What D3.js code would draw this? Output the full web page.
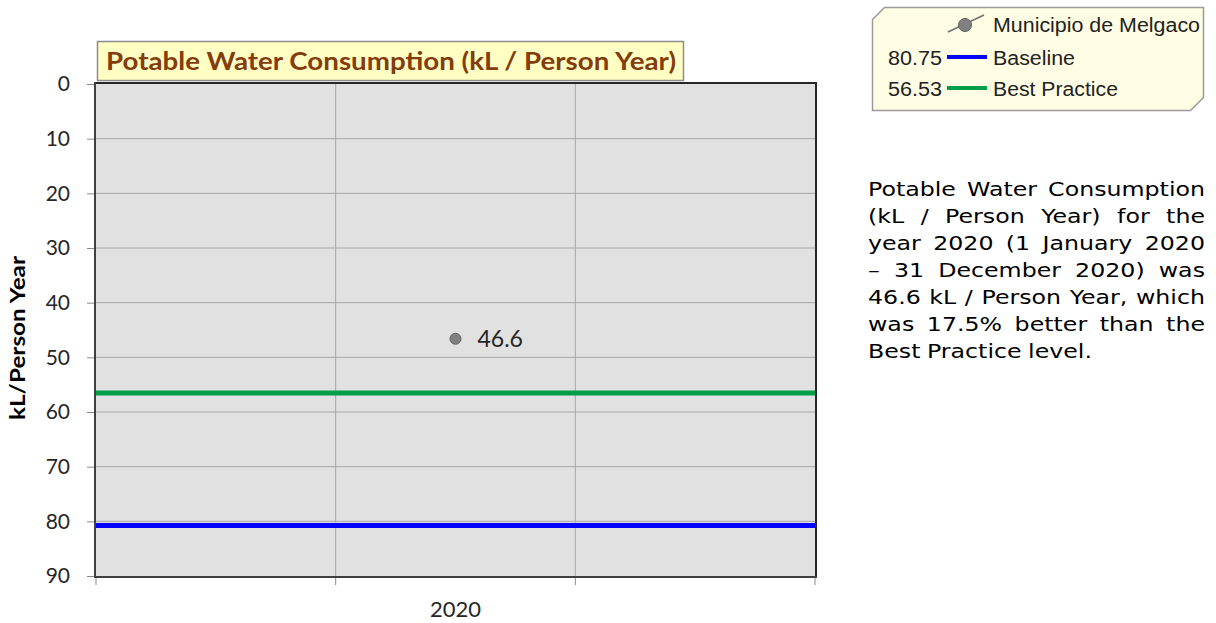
<!DOCTYPE html>
<html><head><meta charset="utf-8">
<script src="https://cdn.jsdelivr.net/npm/d3@7"></script>
<style>
html,body{margin:0;padding:0;background:#fff;}
svg{display:block;}
.note text{font-family:"DejaVu Sans", Verdana, sans-serif;}
</style></head>
<body>
<svg id="c" width="1216" height="623"></svg>
<script>
// ---- data ----
const periods = ["2019", "2020", "2021"];
const xTickLabels = ["", "2020", ""];
const seriesName = "Municipio de Melgaco";
const seriesPeriods = ["2020"];
const seriesValues = [46.6];
const baselineValue = 80.75;
const bestPracticeValue = 56.53;
const yTicks = [0, 10, 20, 30, 40, 50, 60, 70, 80, 90];
const titleText = "Potable Water Consumption (kL / Person Year)";
const yAxisTitle = "kL/Person Year";
const legendRows = [
  {value: "", label: "Municipio de Melgaco", type: "marker"},
  {value: "80.75", label: "Baseline", type: "baseline"},
  {value: "56.53", label: "Best Practice", type: "best"}
];
const noteLines = [
  "Potable Water Consumption",
  "(kL / Person Year) for the",
  "year 2020 (1 January 2020",
  "\u2013 31 December 2020) was",
  "46.6 kL / Person Year, which",
  "was 17.5% better than the",
  "Best Practice level."
];

// ---- layout ----
const svg = d3.select("#c");
const L = 96, R = 815, T = 84, B = 576;
const x = d3.scaleBand().domain(periods).range([L, R]).padding(0);
const y = d3.scaleLinear().domain([0, 90]).range([T, B]);
const colors = {baseline: "#0000ff", best: "#009e49", point: "#808080"};
const calib = "Lato, 'Open Sans', sans-serif";

// plot background
svg.append("rect").attr("x", L).attr("y", T).attr("width", R - L).attr("height", B - T).attr("fill", "#e1e1e1");

// horizontal gridlines
svg.append("g").selectAll("line").data(yTicks.slice(1, -1)).join("line")
  .attr("x1", L).attr("x2", R).attr("y1", d => y(d)).attr("y2", d => y(d))
  .attr("stroke", "#a6a6a6").attr("stroke-width", 1);
// vertical gridlines (band boundaries)
const bounds = periods.map(p => x(p)).concat([x(periods[periods.length - 1]) + x.bandwidth()]);
svg.append("g").selectAll("line").data(bounds.slice(1, -1)).join("line")
  .attr("x1", d => d).attr("x2", d => d).attr("y1", T).attr("y2", B)
  .attr("stroke", "#a6a6a6").attr("stroke-width", 1);

// reference lines
svg.append("line").attr("x1", L).attr("x2", R).attr("y1", y(bestPracticeValue)).attr("y2", y(bestPracticeValue))
  .attr("stroke", colors.best).attr("stroke-width", 5);
svg.append("line").attr("x1", L).attr("x2", R).attr("y1", y(baselineValue)).attr("y2", y(baselineValue))
  .attr("stroke", colors.baseline).attr("stroke-width", 5);

// plot frame: top and right dark
svg.append("line").attr("x1", L).attr("x2", R + 1).attr("y1", T - 1).attr("y2", T - 1).attr("stroke", "#262626").attr("stroke-width", 2);
svg.append("line").attr("x1", R + 1).attr("x2", R + 1).attr("y1", T - 2).attr("y2", B).attr("stroke", "#262626").attr("stroke-width", 2);

// y axis
const yAxis = svg.append("g").attr("transform", `translate(${L},0)`)
  .call(d3.axisLeft(y).tickValues(yTicks).tickSize(9).tickPadding(17));
yAxis.select(".domain").remove();
yAxis.selectAll(".tick line").attr("stroke", "#8c8c8c");
yAxis.selectAll(".tick text").attr("font-family", calib).attr("font-size", 21).attr("fill", "#262626");
svg.append("line").attr("x1", L - 1).attr("x2", L - 1).attr("y1", T - 2).attr("y2", B + 1).attr("stroke", "#404040").attr("stroke-width", 2);

// x axis
svg.append("g").selectAll("line").data(bounds).join("line")
  .attr("x1", d => d).attr("x2", d => d).attr("y1", B).attr("y2", B + 9)
  .attr("stroke", "#8c8c8c");
svg.append("line").attr("x1", L - 2).attr("x2", R + 2).attr("y1", B + 1).attr("y2", B + 1).attr("stroke", "#404040").attr("stroke-width", 2);
svg.append("g").selectAll("text").data(periods).join("text")
  .attr("x", d => x(d) + x.bandwidth() / 2).attr("y", 617)
  .attr("text-anchor", "middle").attr("font-family", calib).attr("font-size", 22).attr("fill", "#262626")
  .text((d, i) => xTickLabels[i]);

// y axis title
svg.append("text").attr("transform", "translate(25,338) rotate(-90)")
  .attr("text-anchor", "middle").attr("font-family", calib).attr("font-weight", "bold")
  .attr("font-size", 20).attr("fill", "#000")
  .attr("textLength", 164).attr("lengthAdjust", "spacingAndGlyphs").text(yAxisTitle);

// data points
const pts = seriesPeriods.map((p, i) => ({p, v: seriesValues[i]}));
svg.append("g").selectAll("circle").data(pts).join("circle")
  .attr("cx", d => x(d.p) + x.bandwidth() / 2).attr("cy", d => y(d.v)).attr("r", 5.5)
  .attr("fill", colors.point).attr("stroke", "#5f5f5f").attr("stroke-width", 1);
svg.append("g").selectAll("text").data(pts).join("text")
  .attr("x", d => x(d.p) + x.bandwidth() / 2 + 22).attr("y", d => y(d.v) + 8)
  .attr("font-family", calib).attr("font-size", 23).attr("fill", "#262626")
  .text(d => d.v.toFixed(1));

// title box
const tb = svg.append("g");
tb.append("rect").attr("x", 97.5).attr("y", 41.5).attr("width", 586).attr("height", 39)
  .attr("fill", "#ffffc4").attr("stroke", "#8c8c8c").attr("stroke-width", 1.5);
const tt = tb.append("text").attr("x", 391).attr("y", 70).attr("text-anchor", "middle")
  .attr("font-family", calib).attr("font-weight", "bold").attr("font-size", 25).attr("fill", "#843c0c")
  .text(titleText);
tt.attr("textLength", 570).attr("lengthAdjust", "spacingAndGlyphs");

// legend
const lg = svg.append("g");
lg.append("path").attr("d", "M884.5,7.5 L1203.5,7.5 L1203.5,97.5 L1190.5,110.5 L872.5,110.5 L872.5,19.5 Z")
  .attr("fill", "#fffde3").attr("stroke", "#9a9a9a").attr("stroke-width", 1.5);
const legY = [24, 57, 88];
const labelWidths = [207, 82, 125];
const lfont = "'Liberation Sans', Arial, sans-serif";
legendRows.forEach((r, i) => {
  const cy = legY[i];
  if (r.type === "marker") {
    lg.append("line").attr("x1", 948).attr("y1", cy + 8).attr("x2", 984).attr("y2", cy - 9).attr("stroke", "#707070").attr("stroke-width", 1.5);
    lg.append("circle").attr("cx", 965).attr("cy", cy + 1).attr("r", 6.5).attr("fill", colors.point).attr("stroke", "#606060");
  } else {
    lg.append("line").attr("x1", 947).attr("x2", 987).attr("y1", cy).attr("y2", cy)
      .attr("stroke", colors[r.type]).attr("stroke-width", 4);
    lg.append("text").attr("x", 942).attr("y", cy + 8).attr("text-anchor", "end")
      .attr("font-family", lfont).attr("font-size", 20).attr("fill", "#222")
      .attr("textLength", 54).attr("lengthAdjust", "spacingAndGlyphs").text(r.value);
  }
  lg.append("text").attr("x", 993).attr("y", cy + 8)
    .attr("font-family", lfont).attr("font-size", 20).attr("fill", "#222")
    .attr("textLength", labelWidths[i]).attr("lengthAdjust", "spacingAndGlyphs").text(r.label);
});

// note text, justified
const nx0 = 868, nx1 = 1205, ny0 = 196, nlh = 27;
const ng = svg.append("g").attr("class", "note").attr("font-size", 19).attr("fill", "#000");
const probe = ng.append("text").text(noteLines[noteLines.length - 1]);
const k = 226 / probe.node().getComputedTextLength();
probe.remove();
noteLines.forEach((line, i) => {
  const words = line.split(" ");
  const yy = ny0 + i * nlh;
  const nodes = words.map(w => ng.append("text").attr("y", yy).text(w));
  const widths = nodes.map(n => n.node().getComputedTextLength() * k);
  nodes.forEach((n, j) => n.attr("textLength", widths[j]).attr("lengthAdjust", "spacingAndGlyphs"));
  const total = d3.sum(widths);
  const last = i === noteLines.length - 1;
  const gap = last ? 6.5 : (nx1 - nx0 - total) / (words.length - 1);
  let cx = nx0;
  nodes.forEach((n, j) => { n.attr("x", cx); cx += widths[j] + gap; });
});
</script>
</body></html>
